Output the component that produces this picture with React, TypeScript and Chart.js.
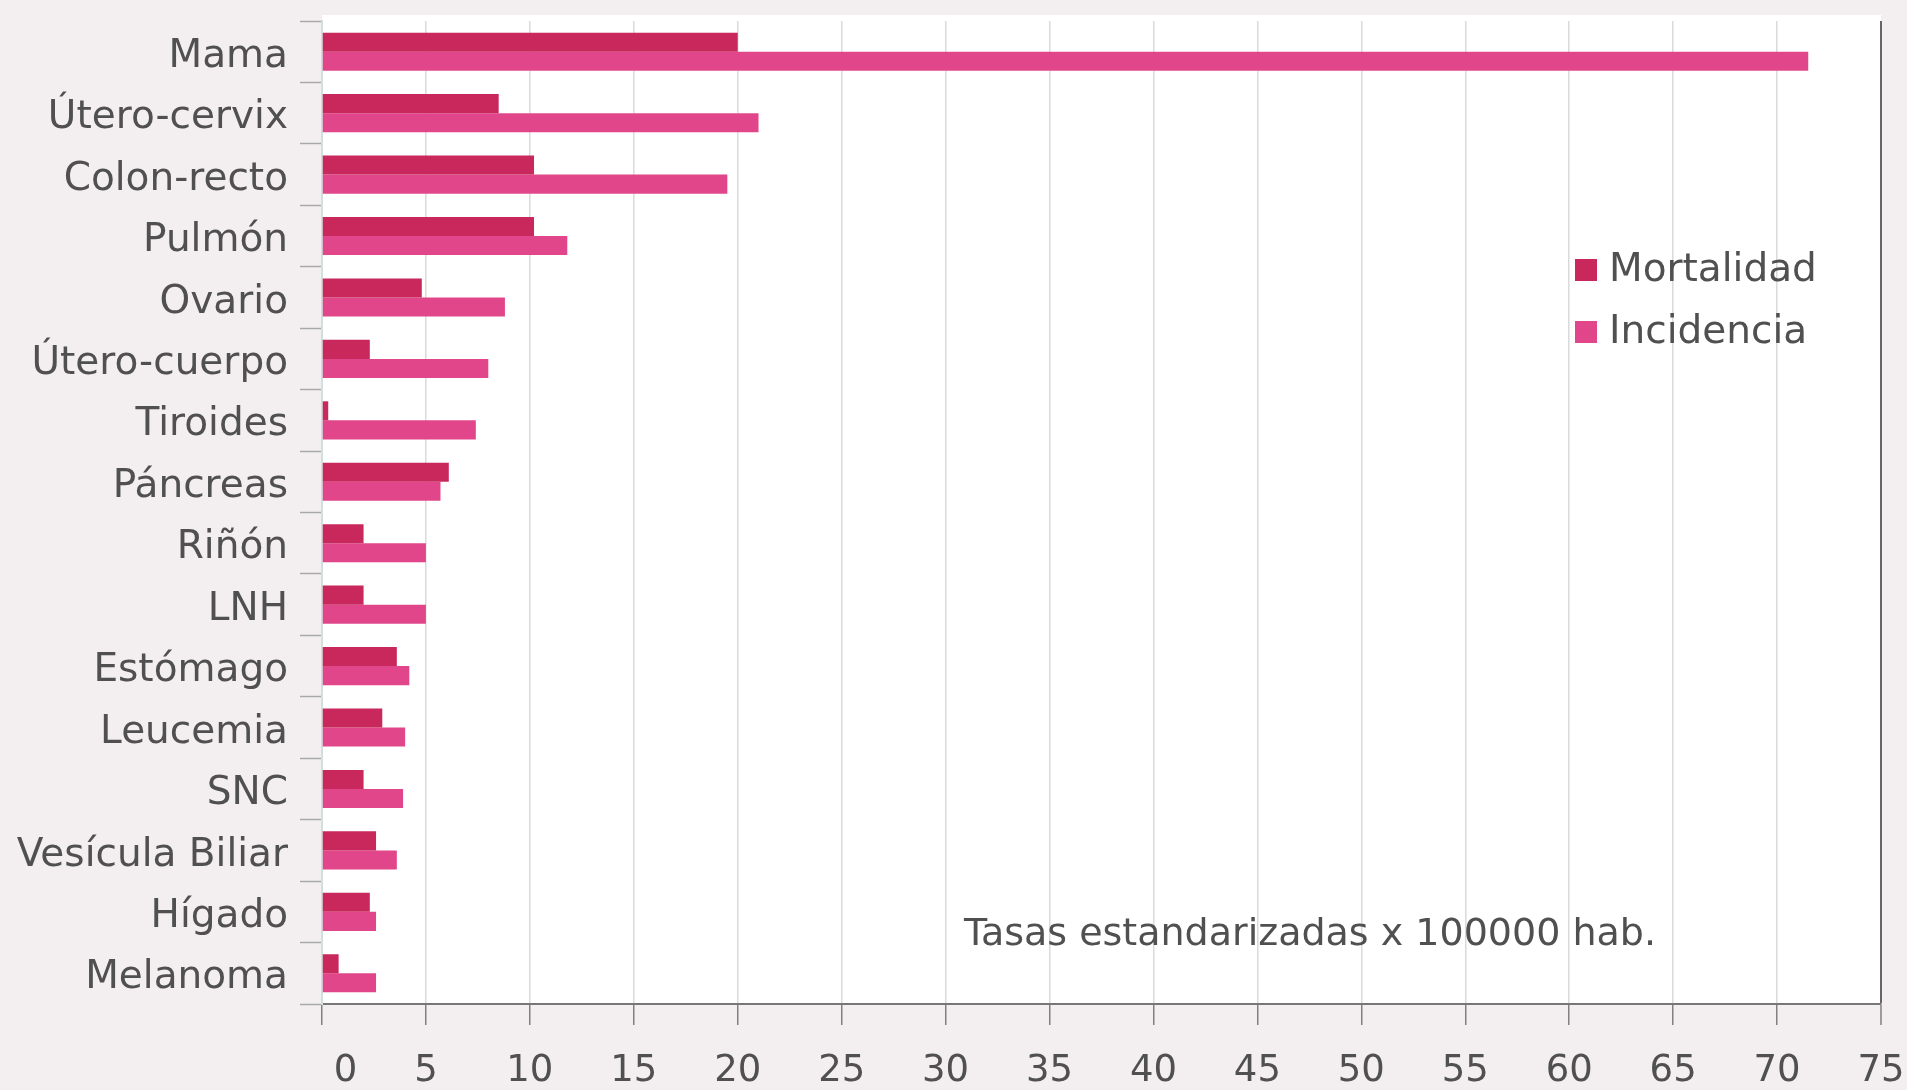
import React, { useEffect, useRef } from "react";
import { Chart, registerables } from "chart.js";

Chart.register(...registerables);

const categories = [
  "Mama",
  "Útero-cervix",
  "Colon-recto",
  "Pulmón",
  "Ovario",
  "Útero-cuerpo",
  "Tiroides",
  "Páncreas",
  "Riñón",
  "LNH",
  "Estómago",
  "Leucemia",
  "SNC",
  "Vesícula Biliar",
  "Hígado",
  "Melanoma",
];
const mortalidad = [20.0, 8.5, 10.2, 10.2, 4.8, 2.3, 0.3, 6.1, 2.0, 2.0, 3.6, 2.9, 2.0, 2.6, 2.3, 0.8];
const incidencia = [71.5, 21.0, 19.5, 11.8, 8.8, 8.0, 7.4, 5.7, 5.0, 5.0, 4.2, 4.0, 3.9, 3.6, 2.6, 2.6];
const seriesNames = ["Mortalidad", "Incidencia"];
const note = "Tasas estandarizadas x 100000 hab.";
const xMin = 0;
const xMax = 75;
const xStep = 5;

const COLOR_MORT = "#C8285C";
const COLOR_INC = "#E2468A";
const FONT = "'DejaVu Sans', sans-serif";
const TEXT = "#505050";

export default function App() {
  const ref = useRef<HTMLCanvasElement | null>(null);

  useEffect(() => {
    if (!ref.current) return;
    const decor = {
      id: "decor",
      beforeDraw(chart: any) {
        const { ctx, chartArea } = chart;
        ctx.save();
        ctx.fillStyle = "#F3EFF0";
        ctx.fillRect(0, 0, chart.width, chart.height);
        ctx.fillStyle = "#FFFFFF";
        ctx.fillRect(chartArea.left, chartArea.top - 6, chartArea.right - chartArea.left, chartArea.bottom - chartArea.top + 6);
        ctx.restore();
      },
      afterDraw(chart: any) {
        const { ctx } = chart;
        ctx.save();
        const colors = [COLOR_MORT, COLOR_INC];
        const ys = [270, 332];
        ctx.font = `39px ${FONT}`;
        ctx.textBaseline = "middle";
        ctx.textAlign = "left";
        seriesNames.forEach((n, i) => {
          ctx.fillStyle = colors[i];
          ctx.fillRect(1575, ys[i] - 11, 22, 22);
          ctx.fillStyle = TEXT;
          ctx.fillText(n, 1609, ys[i] + 1);
        });
        ctx.font = `38px ${FONT}`;
        ctx.fillStyle = TEXT;
        ctx.fillText(note, 964, 935);
        ctx.restore();
      },
    };

    const chart = new Chart(ref.current, {
      type: "bar",
      data: {
        labels: categories,
        datasets: [
          {
            label: seriesNames[0],
            data: mortalidad,
            backgroundColor: COLOR_MORT,
            categoryPercentage: 0.62,
            barPercentage: 1.0,
          },
          {
            label: seriesNames[1],
            data: incidencia,
            backgroundColor: COLOR_INC,
            categoryPercentage: 0.62,
            barPercentage: 1.0,
          },
        ],
      },
      options: {
        indexAxis: "y",
        responsive: false,
        animation: false,
        layout: { padding: { top: 21, right: 26, left: 0, bottom: 0 } },
        plugins: {
          legend: { display: false },
          tooltip: { enabled: false },
        },
        scales: {
          x: {
            type: "linear",
            min: xMin,
            max: xMax,
            position: "bottom",
            afterFit: (s: any) => {
              s.height = 86;
              s.paddingLeft = 0;
              s.paddingRight = 0;
            },
            ticks: {
              stepSize: xStep,
              font: { family: FONT, size: 37 },
              color: TEXT,
              padding: 24,
              callback: (v: any) => (v === 0 ? "    0" : String(v)),
            },
            grid: {
              color: (c: any) =>
                c.tick && c.tick.value === xMax ? "#666666" : c.tick && c.tick.value === xMin ? "rgba(0,0,0,0)" : "#DADADA",
              lineWidth: (c: any) => (c.tick && c.tick.value === xMax ? 2 : 1.5),
              tickColor: "#808080",
              tickLength: 21,
              tickWidth: 1.5,
            },
            border: { color: "#777777", width: 2 },
          },
          y: {
            afterFit: (s: any) => {
              s.width = 322;
              s.paddingTop = 0;
              s.paddingBottom = 0;
            },
            ticks: {
              font: { family: FONT, size: 39 },
              color: TEXT,
              padding: 12,
              labelOffset: 5,
            },
            grid: {
              drawOnChartArea: false,
              tickLength: 22,
              color: "#A8A8A8",
              tickWidth: 1.5,
            },
            border: { color: "#CFE0DE", width: 2 },
          },
        },
      },
      plugins: [decor],
    } as any);
    return () => chart.destroy();
  }, []);

  return (
    <div style={{ position: "absolute", left: 0, top: 0, width: 1907, height: 1090, overflow: "hidden" }}>
      <canvas ref={ref} width={1907} height={1090} style={{ display: "block" }} />
    </div>
  );
}
